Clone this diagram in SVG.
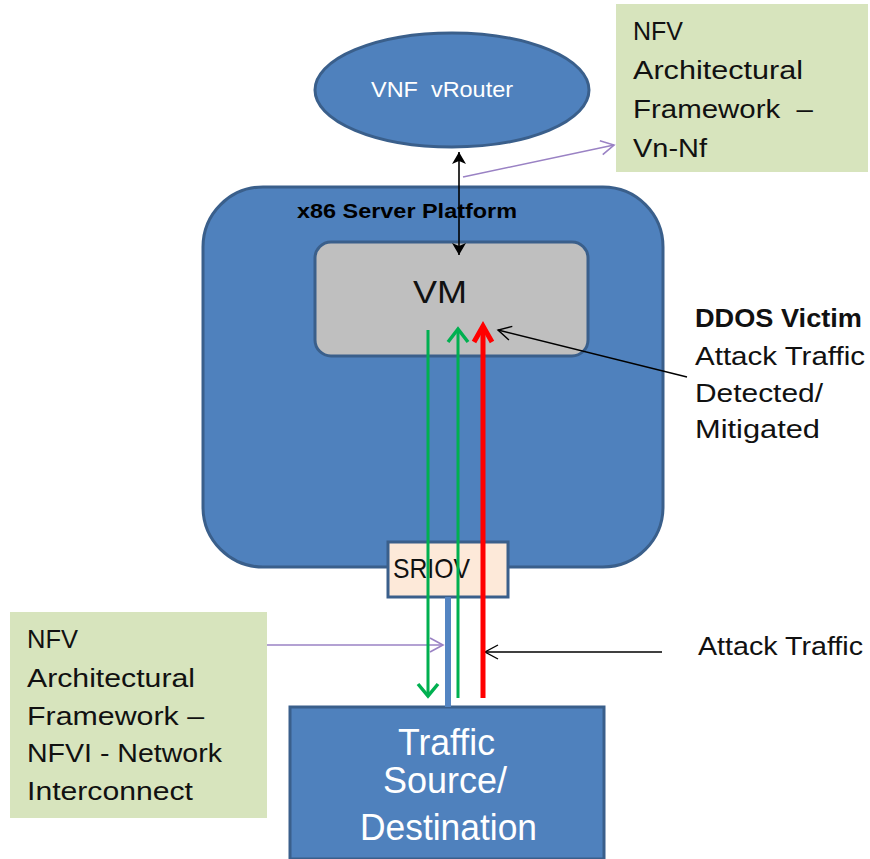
<svg xmlns="http://www.w3.org/2000/svg" width="870" height="859" viewBox="0 0 870 859">
<style>
text{font-family:"Liberation Sans",Arial,sans-serif;}
.blue{fill:#4f81bd;stroke:#3a5f8b;stroke-width:3;}
.note{fill:#d7e4bd;}
.dark{fill:#111;font-size:25.5px;}
.white{fill:#fff;}
.purple{stroke:#9a82c4;stroke-width:1.6;fill:none;}
.blk{stroke:#000;stroke-width:1.4;fill:none;}
</style>
<defs>
<marker id="openP" markerUnits="userSpaceOnUse" markerWidth="20" markerHeight="20" refX="14" refY="8" orient="auto" viewBox="0 0 20 16">
<path d="M1,1 L14,8 L1,15" fill="none" stroke="#9a82c4" stroke-width="1.6"/>
</marker>
<marker id="openK" markerUnits="userSpaceOnUse" markerWidth="20" markerHeight="20" refX="14" refY="8" orient="auto" viewBox="0 0 20 16">
<path d="M1,1 L14,8 L1,15" fill="none" stroke="#000" stroke-width="1.4"/>
</marker>
<marker id="solidK" markerUnits="userSpaceOnUse" markerWidth="14" markerHeight="14" refX="12" refY="7" orient="auto-start-reverse" viewBox="0 0 14 14">
<path d="M0,0 L12,7 L0,14 L3,7 Z" fill="#000"/>
</marker>
</defs>

<g id="server-platform">
<rect class="blue" x="203" y="187" width="460" height="380" rx="60" ry="60"/>
<text x="297" y="218" font-size="21" font-weight="bold" fill="#000" textLength="220" lengthAdjust="spacingAndGlyphs">x86 Server Platform</text>
</g>

<g id="vm">
<rect x="315" y="242" width="273" height="114" rx="16" ry="16" fill="#bfbfbf" stroke="#3a5f8b" stroke-width="3"/>
<text x="413" y="303" font-size="32" fill="#111" textLength="54" lengthAdjust="spacingAndGlyphs">VM</text>
</g>

<g id="sriov">
<rect x="388" y="542" width="120" height="55" fill="#fde9d9" stroke="#3a5f8b" stroke-width="3"/>
<text x="393" y="578" font-size="28" fill="#111" textLength="77" lengthAdjust="spacingAndGlyphs">SRIOV</text>
</g>

<g id="vnf-vrouter">
<ellipse class="blue" cx="452" cy="90" rx="137" ry="57"/>
<text class="white" x="371" y="97" font-size="22" xml:space="preserve" textLength="142" lengthAdjust="spacingAndGlyphs">VNF  vRouter</text>
</g>

<g id="traffic-source">
<rect class="blue" x="290" y="707" width="314" height="152"/>
<text class="white" x="398" y="755" font-size="37" textLength="97" lengthAdjust="spacingAndGlyphs">Traffic</text>
<text class="white" x="383" y="793" font-size="37" textLength="124" lengthAdjust="spacingAndGlyphs">Source/</text>
<text class="white" x="360" y="840" font-size="37" textLength="177" lengthAdjust="spacingAndGlyphs">Destination</text>
</g>

<g id="note-vn-nf">
<rect class="note" x="616" y="4" width="252" height="168"/>
<text class="dark" x="633" y="40" textLength="50" lengthAdjust="spacingAndGlyphs">NFV</text>
<text class="dark" x="633" y="79" textLength="170" lengthAdjust="spacingAndGlyphs">Architectural</text>
<text class="dark" x="633" y="118" xml:space="preserve" textLength="180" lengthAdjust="spacingAndGlyphs">Framework  –</text>
<text class="dark" x="633" y="157" textLength="74" lengthAdjust="spacingAndGlyphs">Vn-Nf</text>
</g>

<g id="note-nfvi">
<rect class="note" x="10" y="612" width="257" height="206"/>
<text class="dark" x="27" y="648" textLength="51" lengthAdjust="spacingAndGlyphs">NFV</text>
<text class="dark" x="27" y="687" textLength="168" lengthAdjust="spacingAndGlyphs">Architectural</text>
<text class="dark" x="27" y="725" textLength="177" lengthAdjust="spacingAndGlyphs">Framework –</text>
<text class="dark" x="27" y="762" textLength="195" lengthAdjust="spacingAndGlyphs">NFVI - Network</text>
<text class="dark" x="27" y="800" textLength="166" lengthAdjust="spacingAndGlyphs">Interconnect</text>
</g>

<g id="ddos-label">
<text class="dark" x="695" y="327" font-weight="bold" textLength="167" lengthAdjust="spacingAndGlyphs">DDOS Victim</text>
<text class="dark" x="695" y="365" textLength="170" lengthAdjust="spacingAndGlyphs">Attack Traffic</text>
<text class="dark" x="695" y="402" textLength="128" lengthAdjust="spacingAndGlyphs">Detected/</text>
<text class="dark" x="695" y="438" textLength="125" lengthAdjust="spacingAndGlyphs">Mitigated</text>
</g>

<g id="attack-traffic-label">
<text class="dark" x="698" y="655" textLength="165" lengthAdjust="spacingAndGlyphs">Attack Traffic</text>
</g>

<g id="connectors">
<line x1="448" y1="597" x2="448" y2="707" stroke="#5485c2" stroke-width="6"/>
<line x1="459" y1="152" x2="459" y2="255" stroke="#000" stroke-width="1.6" marker-start="url(#solidK)" marker-end="url(#solidK)"/>
<line class="purple" x1="463" y1="177" x2="614" y2="145" marker-end="url(#openP)"/>
<line class="purple" x1="267" y1="645" x2="443" y2="645" marker-end="url(#openP)"/>
<line class="blk" x1="687" y1="377" x2="498" y2="330" marker-end="url(#openK)"/>
<line class="blk" x1="662" y1="652" x2="485" y2="652" marker-end="url(#openK)"/>
<line x1="428" y1="330" x2="428" y2="696" stroke="#00b050" stroke-width="3"/>
<path d="M418,684 L428,696 L438,684" fill="none" stroke="#00b050" stroke-width="3.5"/>
<line x1="458" y1="330" x2="458" y2="698" stroke="#00b050" stroke-width="3"/>
<path d="M448,342 L458,329 L468,342" fill="none" stroke="#00b050" stroke-width="3.5"/>
<line x1="483" y1="326" x2="483" y2="698" stroke="#ff0000" stroke-width="5"/>
<path d="M474,342 L483,326 L492,342" fill="none" stroke="#ff0000" stroke-width="5"/>
</g>
</svg>
